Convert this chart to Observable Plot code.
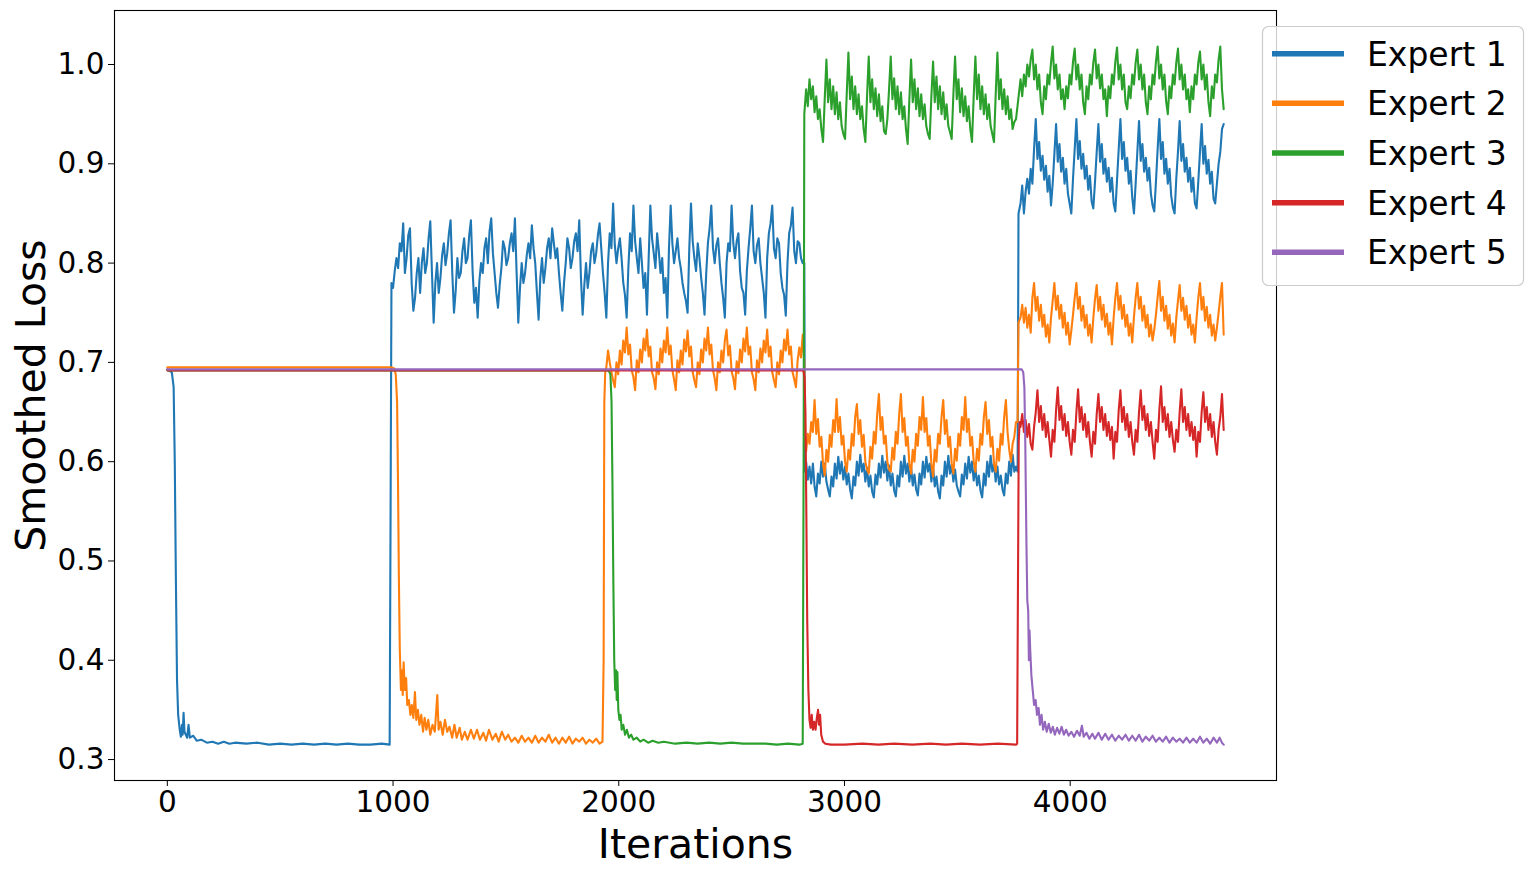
<!DOCTYPE html>
<html>
<head>
<meta charset="utf-8">
<script src="https://cdn.jsdelivr.net/npm/d3@7"></script>
<script src="https://cdn.jsdelivr.net/npm/@observablehq/plot@0.6"></script>
<style>
html, body { margin: 0; padding: 0; background: #fff; }
#chart { position: relative; width: 1533px; height: 874px; font-family: "DejaVu Sans", sans-serif; }
</style>
</head>
<body>
<div id="chart"></div>
<script>
// ---------------- data ----------------
const expertNames = ["Expert 1", "Expert 2", "Expert 3", "Expert 4", "Expert 5"];
const expertColors = ["#1f77b4", "#ff7f0e", "#2ca02c", "#d62728", "#9467bd"];
const xTicks = [0, 1000, 2000, 3000, 4000];
const yTicks = [0.3, 0.4, 0.5, 0.6, 0.7, 0.8, 0.9, 1.0];
const xLabel = "Iterations";
const yLabel = "Smoothed Loss";
const sampleStep = 7.5; // iterations between readings in the noisy stretches

// [iteration, loss] readings around the transitions
const e1Points = [[0,0.693],[20,0.690],[28,0.675],[33,0.60],[38,0.48],[43,0.38],[48,0.345],[55,0.330],[60,0.323],[65,0.335],[68,0.325],[72,0.347],[76,0.328],[82,0.325],[88,0.322],[94,0.335],[100,0.322],[115,0.324],[130,0.319],[150,0.320],[175,0.317],[200,0.318],[225,0.316],[250,0.318],[275,0.316],[300,0.317],[350,0.316],[400,0.317],[450,0.315],[500,0.316],[550,0.315],[600,0.316],[650,0.315],[700,0.316],[750,0.315],[800,0.316],[850,0.315],[900,0.315],[950,0.316],[985,0.315],[990,0.60],[993,0.78],
  [2822,0.80],[2825,0.59],[3767,0.59],[3771,0.85]];
const e2Points = [[0,0.695],[995,0.695],[1005,0.694],[1012,0.688],[1018,0.66],[1022,0.58],[1026,0.48],[1030,0.41],[1035,0.37],[1040,0.39],[1043,0.365],[1047,0.398],[1052,0.37],[1058,0.382],[1063,0.355],[1070,0.36],[1077,0.345],[1083,0.355],[1090,0.342],[1097,0.368],[1103,0.34],[1110,0.35],[1117,0.335],[1125,0.345],[1133,0.328],[1140,0.342],[1148,0.33],[1156,0.34],[1165,0.325],[1175,0.335],[1185,0.328],[1196,0.365],[1202,0.33],[1210,0.338],[1220,0.325],[1230,0.34],[1240,0.328],[1250,0.333],[1262,0.322],[1272,0.335],[1282,0.322],[1295,0.332],[1305,0.32],[1318,0.328],[1330,0.32],[1345,0.33],[1358,0.321],[1372,0.33],[1385,0.32],[1400,0.327],[1412,0.319],[1425,0.33],[1440,0.32],[1455,0.326],[1468,0.318],[1482,0.328],[1497,0.32],[1510,0.325],[1525,0.318],[1540,0.322],[1555,0.317],[1570,0.324],[1585,0.318],[1600,0.322],[1615,0.317],[1630,0.324],[1645,0.317],[1660,0.322],[1675,0.318],[1690,0.325],[1705,0.317],[1720,0.322],[1735,0.316],[1750,0.322],[1765,0.317],[1780,0.323],[1795,0.316],[1810,0.321],[1825,0.318],[1840,0.322],[1855,0.316],[1870,0.32],[1885,0.317],[1900,0.321],[1915,0.316],[1928,0.318],[1933,0.40],[1936,0.66],[1940,0.69],
  [2822,0.70],[2826,0.62],[3767,0.64],[3771,0.74]];
const e3Points = [[0,0.692],[1955,0.692],[1963,0.688],[1968,0.66],[1972,0.58],[1976,0.48],[1980,0.40],[1984,0.37],[1988,0.39],[1991,0.36],[1994,0.388],[1998,0.35],[2003,0.34],[2008,0.345],[2013,0.33],[2020,0.335],[2028,0.325],[2036,0.33],[2045,0.322],[2055,0.325],[2065,0.32],[2080,0.322],[2095,0.318],[2110,0.32],[2130,0.317],[2150,0.319],[2175,0.317],[2200,0.318],[2250,0.316],[2300,0.317],[2350,0.316],[2400,0.317],[2450,0.316],[2500,0.317],[2550,0.316],[2600,0.316],[2650,0.316],[2700,0.315],[2750,0.316],[2800,0.315],[2815,0.316],[2819,0.60],[2822,0.95]];
const e4Points = [[0,0.692],[2818,0.692],[2823,0.685],[2827,0.65],[2831,0.55],[2835,0.44],[2840,0.37],[2845,0.34],[2850,0.332],[2855,0.345],[2860,0.33],[2866,0.338],[2872,0.33],[2878,0.343],[2883,0.35],[2887,0.335],[2892,0.345],[2897,0.325],[2905,0.318],[2915,0.316],[2940,0.315],[3000,0.315],[3080,0.316],[3150,0.315],[3220,0.316],[3300,0.315],[3380,0.316],[3450,0.315],[3520,0.316],[3600,0.315],[3680,0.316],[3760,0.315],[3765,0.316],[3768,0.45],[3772,0.62],[3776,0.64]];
const e5Points = [[0,0.693],[3785,0.693],[3792,0.690],[3797,0.675],[3801,0.62],[3806,0.52],[3810,0.46],[3814,0.45],[3817,0.40],[3820,0.43],[3823,0.41],[3828,0.385],[3834,0.37],[3840,0.355],[3847,0.36],[3853,0.345],[3860,0.352],[3866,0.335],[3873,0.345],[3880,0.33],[3888,0.338],[3896,0.328],[3905,0.336],[3914,0.327],[3923,0.333],[3932,0.325],[3942,0.332],[3952,0.326],[3962,0.333],[3972,0.325],[3982,0.33],[3993,0.324],[4005,0.328],[4017,0.323],[4030,0.329],[4042,0.324],[4052,0.334],[4060,0.323],[4072,0.327],[4085,0.321],[4098,0.326],[4110,0.321],[4125,0.327],[4140,0.32],[4155,0.326],[4170,0.32],[4185,0.325],[4200,0.319],[4215,0.324],[4230,0.32],[4245,0.325],[4260,0.319],[4275,0.324],[4290,0.319],[4305,0.325],[4320,0.318],[4335,0.323],[4350,0.319],[4365,0.324],[4380,0.318],[4395,0.322],[4410,0.318],[4425,0.323],[4440,0.317],[4455,0.322],[4470,0.318],[4485,0.321],[4500,0.317],[4515,0.322],[4530,0.317],[4545,0.321],[4560,0.317],[4575,0.323],[4590,0.317],[4605,0.321],[4620,0.316],[4635,0.322],[4650,0.317],[4662,0.322],[4672,0.317],[4680,0.315]];

// noisy stretches, one reading every sampleStep iterations
const e1Task2Start = 1000;
const e1Task2Loss = [0.775,0.792,0.805,0.795,0.820,0.812,0.840,0.790,0.805,0.828,0.835,0.780,0.752,0.765,0.790,0.805,0.770,0.800,0.815,0.790,
 0.800,0.825,0.842,0.790,0.740,0.780,0.800,0.770,0.785,0.808,0.820,0.798,0.810,0.830,0.843,0.790,0.750,0.772,0.805,0.785,
 0.790,0.812,0.825,0.800,0.805,0.828,0.843,0.792,0.760,0.775,0.745,0.782,0.800,0.790,0.815,0.825,0.800,0.832,0.845,0.810,
 0.790,0.770,0.755,0.778,0.795,0.822,0.815,0.798,0.805,0.820,0.830,0.812,0.845,0.790,0.740,0.775,0.800,0.780,0.790,0.808,
 0.820,0.805,0.838,0.815,0.800,0.770,0.743,0.785,0.805,0.780,0.795,0.815,0.825,0.805,0.835,0.820,0.805,0.815,0.790,0.770,
 0.752,0.780,0.800,0.825,0.815,0.795,0.805,0.822,0.830,0.812,0.843,0.785,0.748,0.778,0.800,0.775,0.790,0.812,0.820,0.800,
 0.810,0.828,0.840,0.815,0.790,0.770,0.745,0.800,0.830,0.815,0.860,0.818,0.800,0.815,0.825,0.805,0.780,0.768,0.745,0.795,
 0.830,0.812,0.858,0.822,0.805,0.790,0.825,0.800,0.775,0.790,0.748,0.805,0.858,0.825,0.810,0.795,0.830,0.812,0.790,0.805,
 0.770,0.785,0.745,0.815,0.858,0.820,0.800,0.812,0.825,0.805,0.795,0.780,0.770,0.762,0.750,0.815,0.860,0.822,0.805,0.792,
 0.820,0.805,0.785,0.770,0.748,0.790,0.820,0.835,0.858,0.815,0.800,0.818,0.825,0.800,0.780,0.765,0.745,0.800,0.820,0.812,
 0.858,0.820,0.805,0.822,0.830,0.792,0.775,0.770,0.748,0.792,0.815,0.835,0.858,0.812,0.800,0.818,0.825,0.800,0.785,0.770,
 0.745,0.805,0.830,0.840,0.858,0.815,0.805,0.825,0.820,0.790,0.775,0.768,0.747,0.800,0.830,0.838,0.856,0.812,0.800,0.822,
 0.820,0.805,0.800];
const e1Task3Start = 2830;
const e1Task3Loss = [0.600,0.582,0.595,0.578,0.598,0.575,0.565,0.588,0.578,0.600,0.585,0.598,0.580,0.572,0.565,
 0.585,0.575,0.598,0.583,0.605,0.588,0.600,0.582,0.595,0.577,0.588,0.572,0.563,
 0.585,0.576,0.600,0.586,0.607,0.590,0.598,0.580,0.594,0.575,0.586,0.570,0.564,
 0.587,0.577,0.598,0.584,0.606,0.589,0.600,0.581,0.596,0.576,0.588,0.571,0.565,
 0.586,0.575,0.600,0.585,0.606,0.588,0.598,0.580,0.595,0.576,0.587,0.572,0.566,
 0.588,0.577,0.600,0.584,0.605,0.590,0.598,0.580,0.594,0.575,0.585,0.570,0.563,
 0.586,0.576,0.600,0.585,0.606,0.588,0.597,0.580,0.592,0.576,0.570,0.565,
 0.587,0.577,0.598,0.583,0.605,0.589,0.600,0.581,0.594,0.576,0.586,0.571,0.564,
 0.588,0.576,0.600,0.585,0.606,0.590,0.598,0.580,0.595,0.577,0.586,0.572,0.566,
 0.588,0.578,0.600,0.586,0.607,0.590,0.595];
const e1Task4Start = 3780;
const e1Task4Loss = [0.860,0.878,0.850,0.872,0.885,0.870,0.895,0.880,0.915,0.945,
 0.905,0.922,0.893,0.908,0.884,0.898,0.872,0.888,0.858,0.880,0.910,0.940,
 0.902,0.920,0.892,0.906,0.880,0.895,0.870,0.860,0.850,0.885,0.915,0.945,
 0.905,0.923,0.895,0.910,0.885,0.898,0.874,0.888,0.862,0.855,0.882,0.912,0.940,
 0.902,0.920,0.890,0.905,0.882,0.896,0.872,0.886,0.860,0.852,0.884,0.915,0.945,
 0.905,0.922,0.893,0.906,0.880,0.893,0.866,0.850,0.880,0.912,0.943,
 0.903,0.920,0.892,0.906,0.883,0.896,0.870,0.858,0.852,0.882,0.915,0.945,
 0.905,0.922,0.890,0.905,0.880,0.895,0.868,0.856,0.850,0.885,0.912,0.943,
 0.903,0.920,0.892,0.906,0.882,0.896,0.872,0.886,0.860,0.855,0.882,0.912,0.940,
 0.900,0.918,0.890,0.904,0.880,0.892,0.865,0.860,0.880,0.900,0.912,0.935,0.940];
const e2Task2Start = 1945;
const e2Task2Loss = [0.695,0.712,0.700,0.690,0.682,0.675,
 0.700,0.688,0.712,0.698,0.722,0.710,0.735,0.708,0.718,0.692,0.685,0.672,
 0.702,0.690,0.713,0.700,0.724,0.712,0.733,0.706,0.716,0.690,0.684,0.673,
 0.700,0.688,0.714,0.700,0.722,0.710,0.735,0.708,0.717,0.692,0.683,0.672,
 0.702,0.690,0.712,0.698,0.723,0.711,0.732,0.706,0.716,0.690,0.682,0.675,
 0.700,0.688,0.713,0.700,0.724,0.712,0.735,0.708,0.718,0.692,0.684,0.672,
 0.700,0.690,0.712,0.700,0.722,0.733,0.707,0.717,0.691,0.684,0.673,
 0.701,0.689,0.713,0.700,0.724,0.711,0.735,0.708,0.716,0.690,0.683,0.672,
 0.702,0.690,0.714,0.700,0.722,0.710,0.733,0.706,0.716,0.690,0.682,0.675,
 0.700,0.688,0.712,0.700,0.723,0.712,0.733,0.708,0.716,0.690,0.683,0.675,
 0.702,0.715,0.705,0.728];
const e2Task3Start = 2830;
const e2Task3Loss = [0.610,0.628,0.618,0.640,0.630,0.662,0.628,0.643,0.615,0.625,0.598,0.586,
 0.612,0.600,0.627,0.615,0.642,0.630,0.663,0.630,0.645,0.617,0.626,0.600,0.590,
 0.612,0.602,0.628,0.616,0.645,0.658,0.628,0.642,0.615,0.627,0.600,0.592,0.588,
 0.615,0.603,0.630,0.618,0.648,0.668,0.632,0.645,0.618,0.626,0.600,0.592,0.590,
 0.614,0.602,0.630,0.618,0.648,0.668,0.630,0.644,0.616,0.625,0.598,0.588,
 0.612,0.600,0.628,0.616,0.645,0.632,0.665,0.630,0.644,0.616,0.626,0.598,0.585,
 0.612,0.600,0.628,0.618,0.645,0.662,0.628,0.642,0.615,0.625,0.598,0.588,
 0.613,0.601,0.628,0.616,0.645,0.632,0.665,0.630,0.643,0.616,0.625,0.600,0.590,
 0.613,0.601,0.628,0.617,0.645,0.660,0.628,0.642,0.615,0.625,0.598,0.590,
 0.613,0.601,0.628,0.617,0.645,0.662,0.630,0.612,0.600,0.618,0.625,0.640];
const e2Task4Start = 3780;
const e2Task4Loss = [0.745,0.758,0.740,0.755,0.735,0.748,0.730,0.765,0.780,
 0.752,0.766,0.742,0.758,0.736,0.748,0.726,0.738,0.720,0.745,0.762,0.780,
 0.753,0.767,0.744,0.758,0.735,0.750,0.728,0.740,0.718,0.732,0.748,0.765,0.780,
 0.754,0.766,0.742,0.757,0.735,0.748,0.727,0.738,0.720,0.745,0.764,0.778,
 0.752,0.766,0.743,0.758,0.736,0.749,0.728,0.740,0.718,0.745,0.765,0.780,
 0.753,0.767,0.744,0.758,0.736,0.748,0.727,0.739,0.720,0.746,0.765,0.780,
 0.754,0.766,0.742,0.757,0.735,0.748,0.726,0.738,0.722,0.733,0.748,0.766,0.782,
 0.752,0.766,0.742,0.757,0.734,0.748,0.727,0.739,0.720,0.745,0.762,0.778,
 0.752,0.765,0.743,0.757,0.735,0.748,0.728,0.738,0.720,0.745,0.765,0.780,
 0.753,0.766,0.742,0.756,0.735,0.748,0.727,0.738,0.722,0.735,0.750,0.766,0.780,0.728];
const e3Task3Start = 2830;
const e3Task3Loss = [0.975,0.958,0.985,0.965,0.978,0.952,0.968,0.945,0.955,0.935,0.922,0.965,1.005,
 0.962,0.985,0.955,0.978,0.950,0.972,0.945,0.962,0.938,0.930,0.925,0.970,1.012,
 0.965,0.988,0.955,0.978,0.950,0.970,0.945,0.958,0.935,0.922,0.968,1.008,
 0.962,0.985,0.955,0.976,0.948,0.970,0.943,0.958,0.933,0.930,0.945,0.975,1.008,
 0.965,0.986,0.955,0.978,0.950,0.972,0.945,0.958,0.935,0.920,0.965,1.005,
 0.962,0.985,0.955,0.976,0.948,0.970,0.945,0.960,0.938,0.930,0.925,0.968,1.003,
 0.962,0.988,0.955,0.978,0.950,0.972,0.945,0.960,0.938,0.932,0.925,0.970,1.008,
 0.965,0.985,0.952,0.976,0.948,0.968,0.943,0.958,0.935,0.922,0.968,1.008,
 0.965,0.990,0.955,0.978,0.950,0.970,0.945,0.960,0.938,0.930,0.922,0.970,1.012,
 0.965,0.985,0.955,0.975,0.950,0.968,0.945,0.955,0.935,0.942,0.945];
const e3Task4Start = 3780;
const e3Task4Loss = [0.985,0.968,0.990,0.978,1.000,0.988,1.005,1.015,
 0.985,1.000,0.975,0.990,0.962,0.950,0.978,0.965,0.990,0.980,1.002,1.018,
 0.986,1.000,0.975,0.990,0.965,0.975,0.955,0.978,0.966,0.990,0.980,1.003,1.016,
 0.985,1.000,0.975,0.990,0.962,0.950,0.978,0.965,0.990,0.980,1.002,1.015,
 0.986,1.000,0.976,0.990,0.965,0.975,0.948,0.978,0.966,0.990,0.980,1.003,1.017,
 0.985,1.000,0.975,0.990,0.962,0.955,0.978,0.966,0.990,0.980,1.002,1.015,
 0.985,1.000,0.975,0.990,0.962,0.950,0.978,0.965,0.990,0.980,1.003,1.018,
 0.986,1.000,0.975,0.990,0.963,0.950,0.978,0.966,0.990,0.980,1.002,1.016,
 0.985,1.000,0.975,0.990,0.965,0.975,0.952,0.978,0.965,0.990,0.980,1.002,1.013,
 0.985,1.000,0.975,0.990,0.962,0.948,0.978,0.966,0.990,0.982,1.005,1.018,0.975,0.955];
const e4Task4Start = 3780;
const e4Task4Loss = [0.635,0.648,0.630,0.642,0.625,0.638,0.618,0.612,0.635,0.650,0.672,
 0.640,0.656,0.632,0.648,0.625,0.640,0.622,0.605,0.632,0.620,0.652,0.675,
 0.642,0.656,0.632,0.648,0.626,0.640,0.620,0.607,0.632,0.620,0.650,0.673,
 0.640,0.655,0.632,0.648,0.625,0.640,0.620,0.605,0.630,0.618,0.648,0.668,
 0.640,0.655,0.632,0.648,0.626,0.640,0.622,0.635,0.603,0.630,0.620,0.652,0.672,
 0.640,0.655,0.632,0.648,0.625,0.640,0.620,0.607,0.632,0.620,0.650,0.672,
 0.642,0.656,0.632,0.648,0.626,0.640,0.620,0.603,0.632,0.620,0.652,0.676,
 0.640,0.655,0.632,0.648,0.625,0.640,0.622,0.610,0.632,0.620,0.650,0.673,
 0.640,0.655,0.632,0.648,0.626,0.640,0.622,0.635,0.605,0.630,0.620,0.650,0.670,
 0.640,0.655,0.632,0.648,0.625,0.640,0.620,0.607,0.632,0.645,0.668,0.632];

// ---------------- build table ----------------
function buildSeries(name, points, runs) {
  const rows = points.map(([iter, loss]) => ({expert: name, iter, loss}));
  for (const [start, values] of runs) {
    values.forEach((loss, i) => rows.push({expert: name, iter: start + i * sampleStep, loss}));
  }
  rows.sort((a, b) => a.iter - b.iter);
  return rows;
}
const seriesRows = [
  buildSeries(expertNames[0], e1Points, [[e1Task2Start, e1Task2Loss], [e1Task3Start, e1Task3Loss], [e1Task4Start, e1Task4Loss]]),
  buildSeries(expertNames[1], e2Points, [[e2Task2Start, e2Task2Loss], [e2Task3Start, e2Task3Loss], [e2Task4Start, e2Task4Loss]]),
  buildSeries(expertNames[2], e3Points, [[e3Task3Start, e3Task3Loss], [e3Task4Start, e3Task4Loss]]),
  buildSeries(expertNames[3], e4Points, [[e4Task4Start, e4Task4Loss]]),
  buildSeries(expertNames[4], e5Points, [])
];

// ---------------- plot ----------------
const font = '"DejaVu Sans", sans-serif';
const chart = Plot.plot({
  width: 1533,
  height: 874,
  marginLeft: 114,
  marginRight: 257,
  marginTop: 10,
  marginBottom: 94,
  style: {fontFamily: font, fontSize: "29.5px", background: "#fff", color: "#000", overflow: "visible"},
  x: {domain: [-234, 4914]},
  y: {domain: [0.2789, 1.0544]},
  color: {domain: expertNames, range: expertColors},
  marks: [
    ...seriesRows.map(rows => Plot.line(rows, {x: "iter", y: "loss", stroke: "expert", strokeWidth: 2.1, strokeLinejoin: "round"})),
    Plot.frame({stroke: "#000", strokeWidth: 1.1}),
    Plot.axisX(xTicks, {tickSize: 6, tickPadding: 5, fontSize: 29.5, label: null, tickFormat: d => String(d)}),
    Plot.axisY(yTicks, {tickSize: 6, tickPadding: 4, fontSize: 29.5, label: null, tickFormat: d => d.toFixed(1)}),
    Plot.text([xLabel], {frameAnchor: "bottom", textAnchor: "middle", lineAnchor: "middle", dy: 64, fontSize: 41}),
    Plot.text([yLabel], {frameAnchor: "left", textAnchor: "middle", lineAnchor: "middle", dx: -83, rotate: -90, fontSize: 41})
  ]
});
document.getElementById("chart").appendChild(chart);

// ---------------- legend ----------------
const legend = d3.select("#chart").append("svg")
  .attr("width", 1533).attr("height", 874)
  .style("position", "absolute").style("left", "0px").style("top", "0px")
  .style("pointer-events", "none");
legend.append("rect")
  .attr("x", 1262.5).attr("y", 26.5).attr("width", 261).attr("height", 259).attr("rx", 6)
  .attr("fill", "#fff").attr("fill-opacity", 0.8).attr("stroke", "#cccccc").attr("stroke-width", 1.2);
expertNames.forEach((name, i) => {
  const cy = 53.7 + 49.65 * i;
  legend.append("line").attr("x1", 1272).attr("x2", 1344).attr("y1", cy).attr("y2", cy)
    .attr("stroke", expertColors[i]).attr("stroke-width", 5.5);
  legend.append("text").attr("x", 1367).attr("y", cy + 12)
    .attr("font-family", font).attr("font-size", 33).attr("fill", "#000").text(name);
});
</script>
</body>
</html>
